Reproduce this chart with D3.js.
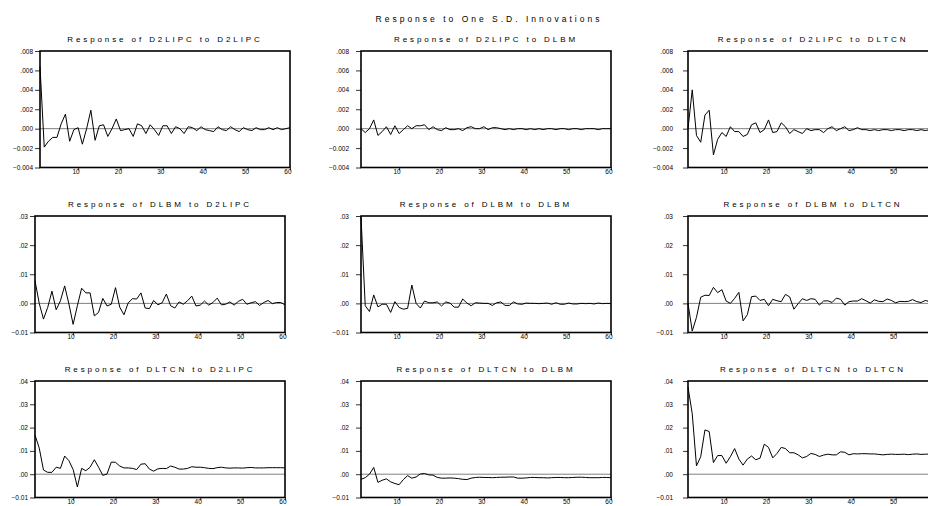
<!DOCTYPE html>
<html>
<head>
<meta charset="utf-8">
<script src="https://cdn.jsdelivr.net/npm/d3@7"></script>
<style>
  body { margin: 0; background: #fff; }
  svg text { font-family: 'Liberation Sans', Arial, sans-serif; fill: #000; }
</style>
</head>
<body>
<svg id="chart"></svg>
<script>
// Impulse responses, 60 periods
const variables = ['D2LIPC', 'DLBM', 'DLTCN'];
const periods = d3.range(1, 61);
const xTicks = [10, 20, 30, 40, 50, 60];

const yDomains = [[-0.004, 0.008], [-0.01, 0.03], [-0.01, 0.04]];
const yTicks = [
  [-0.004, -0.002, 0, 0.002, 0.004, 0.006, 0.008],
  [-0.01, 0, 0.01, 0.02, 0.03],
  [-0.01, 0, 0.01, 0.02, 0.03, 0.04],
];

const d2lipcToD2lipc = [
  0.0064, -0.0019, -0.0013, -0.0009, -0.0009, 0.0005, 0.0015, -0.0013, -0.0001, 0.0001,
  -0.0016, 0.0000, 0.0019, -0.0012, 0.0003, 0.0004, -0.0008, 0.0000, 0.0010, -0.0002,
  -0.0001, 0.0000, -0.0008, 0.0005, 0.0003, -0.0005, 0.0004, -0.0001, -0.0007, 0.0003,
  0.0003, -0.0005, 0.0002, 0.0000, -0.0005, 0.0002, 0.0001, -0.0002, 0.0002, -0.0001,
  -0.0002, -0.0003, 0.0002, -0.0001, -0.0002, 0.0002, -0.0001, -0.0003, 0.0001, -0.0001,
  -0.0002, 0.0001, -0.0001, -0.0001, 0.0001, -0.0001, 0.0001, -0.0001, 0.0000, 0.0001,
];
const d2lipcToDlbm = [
  0.0000, -0.0004, 0.0000, 0.0009, -0.0007, -0.0003, 0.0002, -0.0006, 0.0003, -0.0005,
  -0.0001, 0.0003, 0.0000, 0.0003, 0.0003, 0.0004, -0.0001, 0.0002, -0.0001, -0.0002,
  0.0001, -0.0001, -0.0001, 0.0000, -0.0002, 0.0001, 0.0002, 0.0000, 0.0000, 0.0002,
  -0.0001, 0.0001, 0.0001, 0.0000, -0.0001, 0.0000, -0.0001, 0.0000, 0.0000, -0.0001,
  0.0000, -0.0001, 0.0000, -0.0001, 0.0000, 0.0000, -0.0001, 0.0000, 0.0000, -0.0001,
  0.0000, 0.0000, -0.0001, 0.0000, 0.0000, 0.0000, -0.0001, 0.0000, 0.0000, 0.0000,
];
const d2lipcToDltcn = [
  0.0000, 0.0040, -0.0007, -0.0014, 0.0014, 0.0019, -0.0027, -0.0011, -0.0004, -0.0008,
  0.0002, -0.0003, -0.0003, -0.0008, -0.0006, 0.0004, 0.0006, -0.0004, -0.0001, 0.0009,
  -0.0004, -0.0003, 0.0006, 0.0002, -0.0005, -0.0001, -0.0003, -0.0005, 0.0000, -0.0002,
  -0.0001, -0.0001, -0.0004, 0.0000, 0.0002, -0.0002, 0.0000, 0.0002, -0.0002, -0.0001,
  0.0001, -0.0001, -0.0001, -0.0002, -0.0001, -0.0002, -0.0001, -0.0001, -0.0002, -0.0001,
  -0.0001, -0.0002, -0.0001, -0.0001, -0.0002, -0.0001, -0.0002, -0.0001, -0.0001, -0.0001,
];
const dlbmToD2lipc = [
  0.0078, 0.0000, -0.0054, -0.0014, 0.0042, -0.0022, 0.0009, 0.0060, -0.0002, -0.0072,
  -0.0008, 0.0052, 0.0036, 0.0036, -0.0043, -0.0031, 0.0017, -0.0009, -0.0003, 0.0054,
  -0.0013, -0.0039, 0.0002, 0.0016, 0.0015, 0.0036, -0.0016, -0.0018, 0.0010, -0.0005,
  0.0002, 0.0032, -0.0008, -0.0016, 0.0005, -0.0003, 0.0009, 0.0025, -0.0009, -0.0006,
  0.0008, -0.0006, 0.0003, 0.0018, -0.0005, -0.0003, 0.0005, -0.0006, 0.0007, 0.0014,
  -0.0003, 0.0002, 0.0006, -0.0007, 0.0003, 0.0010, -0.0001, 0.0003, 0.0003, -0.0005,
];
const dlbmToDlbm = [
  0.0298, -0.0008, -0.0028, 0.0029, -0.0012, -0.0003, -0.0003, -0.0031, 0.0006, -0.0014,
  -0.0020, -0.0017, 0.0063, 0.0000, -0.0016, 0.0008, 0.0002, 0.0002, 0.0005, -0.0009,
  0.0005, 0.0001, -0.0013, -0.0013, 0.0015, 0.0001, -0.0008, 0.0002, 0.0001, 0.0000,
  0.0000, -0.0007, 0.0002, 0.0005, -0.0007, -0.0007, 0.0005, -0.0002, -0.0003, 0.0001,
  0.0000, 0.0000, -0.0001, 0.0000, 0.0001, -0.0003, 0.0002, -0.0003, -0.0003, 0.0001,
  -0.0002, -0.0002, 0.0000, -0.0001, 0.0000, -0.0002, 0.0001, -0.0001, 0.0000, -0.0001,
];
const dlbmToDltcn = [
  0.0000, -0.0095, -0.0048, 0.0021, 0.0028, 0.0027, 0.0055, 0.0037, 0.0047, 0.0008,
  0.0000, 0.0017, 0.0038, -0.0060, -0.0039, 0.0023, 0.0025, 0.0010, 0.0014, -0.0008,
  0.0014, 0.0009, 0.0006, 0.0031, 0.0022, -0.0020, -0.0001, 0.0016, 0.0010, 0.0016,
  0.0014, -0.0006, 0.0008, 0.0009, 0.0003, 0.0018, 0.0014, -0.0006, 0.0006, 0.0008,
  0.0008, 0.0016, 0.0009, 0.0001, 0.0012, 0.0007, 0.0006, 0.0015, 0.0010, 0.0002,
  0.0007, 0.0006, 0.0007, 0.0013, 0.0006, 0.0003, 0.0010, 0.0006, 0.0004, 0.0007,
];
const dltcnToD2lipc = [
  0.0168, 0.0112, 0.0018, 0.0008, 0.0008, 0.0030, 0.0025, 0.0078, 0.0058, 0.0020,
  -0.0055, 0.0025, 0.0015, 0.0030, 0.0062, 0.0030, -0.0005, 0.0001, 0.0052, 0.0051,
  0.0035, 0.0027, 0.0027, 0.0025, 0.0020, 0.0043, 0.0045, 0.0022, 0.0013, 0.0023,
  0.0025, 0.0024, 0.0035, 0.0030, 0.0022, 0.0022, 0.0025, 0.0032, 0.0030, 0.0030,
  0.0028, 0.0025, 0.0024, 0.0028, 0.0030, 0.0027, 0.0026, 0.0027, 0.0027, 0.0026,
  0.0028, 0.0029, 0.0027, 0.0027, 0.0027, 0.0028, 0.0028, 0.0028, 0.0028, 0.0027,
];
const dltcnToDlbm = [
  -0.0022, -0.0015, 0.0000, 0.0029, -0.0035, -0.0026, -0.0020, -0.0033, -0.0040, -0.0045,
  -0.0023, -0.0006, -0.0017, -0.0012, 0.0001, 0.0003, -0.0003, -0.0004, -0.0014, -0.0017,
  -0.0017, -0.0016, -0.0017, -0.0019, -0.0022, -0.0023, -0.0017, -0.0014, -0.0013, -0.0014,
  -0.0014, -0.0015, -0.0014, -0.0013, -0.0013, -0.0012, -0.0012, -0.0017, -0.0017, -0.0016,
  -0.0014, -0.0014, -0.0015, -0.0015, -0.0016, -0.0015, -0.0014, -0.0014, -0.0015, -0.0015,
  -0.0014, -0.0013, -0.0013, -0.0014, -0.0015, -0.0015, -0.0015, -0.0014, -0.0014, -0.0015,
];
const dltcnToDltcn = [
  0.0374, 0.0259, 0.0036, 0.0075, 0.0190, 0.0183, 0.0050, 0.0080, 0.0080, 0.0047,
  0.0075, 0.0110, 0.0065, 0.0039, 0.0065, 0.0078, 0.0062, 0.0069, 0.0129, 0.0115,
  0.0070, 0.0089, 0.0115, 0.0110, 0.0092, 0.0092, 0.0083, 0.0070, 0.0076, 0.0089,
  0.0085, 0.0076, 0.0082, 0.0086, 0.0083, 0.0083, 0.0096, 0.0094, 0.0083, 0.0088,
  0.0087, 0.0088, 0.0088, 0.0087, 0.0087, 0.0085, 0.0083, 0.0085, 0.0086, 0.0085,
  0.0085, 0.0086, 0.0084, 0.0086, 0.0087, 0.0085, 0.0086, 0.0086, 0.0086, 0.0086,
];

// rows = responding variable, columns = shocked variable
const responses = [
  [d2lipcToD2lipc, d2lipcToDlbm, d2lipcToDltcn],
  [dlbmToD2lipc, dlbmToDlbm, dlbmToDltcn],
  [dltcnToD2lipc, dltcnToDlbm, dltcnToDltcn],
];

// layout
const width = 928;
const height = 506;
const boxW = 250;
const boxH = 116.5;
const rowTop = [51, 216, 381];
const colLeft = [[40, 361, 688], [35, 361, 688], [35, 361, 688]];
const labelGap = [7, 12, 15];

const tickFormat = (row) => (v) => d3.format(row === 0 ? '.3f' : '.2f')(v).replace(/^(-?)0\./, '$1.');

const svg = d3.select('#chart')
  .attr('width', width)
  .attr('height', height);

svg.append('text')
  .attr('x', 489)
  .attr('y', 21.5)
  .attr('text-anchor', 'middle')
  .style('font-size', '8.5px')
  .style('letter-spacing', '3px')
  .text('Response to One S.D. Innovations');

const drawPanel = (row, col) => {
  const values = responses[row][col];
  const left = colLeft[row][col];
  const g = svg.append('g')
    .attr('transform', `translate(${left},${rowTop[row]})`);

  const x = d3.scaleLinear().domain([1, 60]).range([0, boxW]);
  const y = d3.scaleLinear().domain(yDomains[row]).range([boxH, 0]);

  g.append('text')
    .attr('x', boxW / 2)
    .attr('y', -9)
    .attr('text-anchor', 'middle')
    .style('font-size', '8px')
    .style('letter-spacing', '2.9px')
    .text(`Response of ${variables[row]} to ${variables[col]}`);

  const yAxis = g.append('g')
    .call(d3.axisLeft(y).tickValues(yTicks[row]).tickSize(5).tickPadding(labelGap[col] - 5)
      .tickFormat(tickFormat(row)));
  yAxis.select('.domain').remove();

  // the right column runs past the window edge, so its last label is not shown
  const shownTicks = xTicks.filter((t) => left + x(t) < width);
  const xAxis = g.append('g')
    .attr('transform', `translate(0,${boxH})`)
    .call(d3.axisBottom(x).tickValues(shownTicks).tickSize(3).tickPadding(0));
  xAxis.select('.domain').remove();
  xAxis.selectAll('text')
    .attr('text-anchor', 'end')
    .attr('x', 1)
    .attr('dy', '0.75em')
    .attr('y', 1.5);

  [yAxis, xAxis].forEach((a) => {
    a.attr('font-family', null).attr('font-size', null);
    a.selectAll('text').style('font-size', '6.5px');
    a.selectAll('line').style('stroke', '#000').style('stroke-width', 0.8);
  });

  g.append('line')
    .attr('x1', 0)
    .attr('x2', boxW)
    .attr('y1', y(0))
    .attr('y2', y(0))
    .style('stroke', '#808080')
    .style('stroke-width', 1);

  g.append('path')
    .datum(values)
    .attr('d', d3.line().x((_d, i) => x(periods[i])).y((d) => y(d)))
    .style('fill', 'none')
    .style('stroke', '#000')
    .style('stroke-width', 1)
    .style('stroke-linejoin', 'miter');

  g.append('rect')
    .attr('width', boxW)
    .attr('height', boxH)
    .style('fill', 'none')
    .style('stroke', '#000')
    .style('stroke-width', 1.6);
};

variables.forEach((_r, row) => variables.forEach((_c, col) => drawPanel(row, col)));
</script>
</body>
</html>
